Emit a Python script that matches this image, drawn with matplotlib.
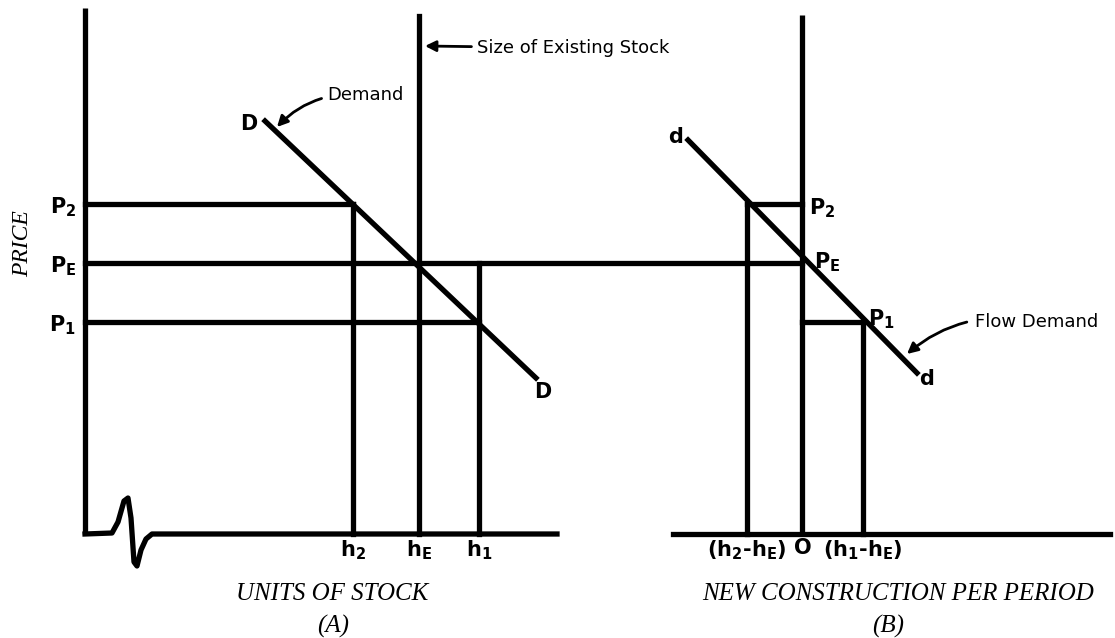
import matplotlib
matplotlib.use('Agg')
import matplotlib.pyplot as plt

plt.rcParams['mathtext.fontset'] = 'dejavusans'
plt.rcParams['mathtext.default'] = 'bf'

# price levels, measured up from the horizontal axis (same in both panels)
price_names = ['P_2', 'P_E', 'P_1']
price_levels = [330, 271, 212]

# panel A: stock quantities
stock_names = ['h_2', 'h_E', 'h_1']
stock_values = [268, 334, 394]
stock_demand_x = [180, 451]
stock_demand_y = [413, 156]

# panel B: new construction = h - h_E
flow_names = ['(h_2$-$h_E)', 'O', '(h_1$-$h_E)']
flow_values = [-55, 0, 61]
flow_demand_x = [-114, 115]
flow_demand_y = [394, 161]

# squiggle on the stock axis (axis break)
break_x = [0, 27, 33, 39, 43, 46, 49, 52, 56, 61, 67]
break_y = [0, 1, 12, 33, 36, 16, -28, -32, -16, -5, 0]

ox_a, ox_b, oy = 85, 802, 104

fig = plt.figure(figsize=(11.15, 6.38), dpi=100)
ax = fig.add_axes([0, 0, 1, 1])
ax.set_xlim(0, 1115)
ax.set_ylim(0, 638)
ax.axis('off')

lw = 3.8
k = 'black'

# ---- panel A ----
ax.plot([ox_a, ox_a], [oy, oy + 526], color=k, lw=lw, solid_capstyle='butt')
ax.plot([ox_a + x for x in break_x] + [557], [oy + y for y in break_y] + [oy],
        color=k, lw=lw, solid_joinstyle='round')

p2, pe, p1 = price_levels
h2, he, h1 = stock_values
ax.plot([ox_a, ox_a + h2], [oy + p2] * 2, color=k, lw=lw)
ax.plot([ox_a + h2] * 2, [oy, oy + p2], color=k, lw=lw)
ax.plot([ox_a, ox_a + h1], [oy + p1] * 2, color=k, lw=lw)
ax.plot([ox_a + h1] * 2, [oy, oy + pe], color=k, lw=lw)
ax.plot([ox_a + he] * 2, [oy, oy + 518], color=k, lw=lw)
# P_E runs across into panel B
ax.plot([ox_a, ox_b], [oy + pe] * 2, color=k, lw=lw)
ax.plot([ox_a + x for x in stock_demand_x], [oy + y for y in stock_demand_y],
        color=k, lw=lw)

for name, p in zip(price_names, price_levels):
    ax.text(ox_a - 9, oy + p - 3, '$%s$' % name, ha='right', va='center', fontsize=15)
for name, h in zip(stock_names, stock_values):
    ax.text(ox_a + h, oy - 4, '$%s$' % name, ha='center', va='top', fontsize=15)

ax.text(ox_a + stock_demand_x[0] - 16, oy + stock_demand_y[0] - 3, '$D$',
        ha='center', va='center', fontsize=15)
ax.text(ox_a + stock_demand_x[1] + 7, oy + stock_demand_y[1] - 14, '$D$',
        ha='center', va='center', fontsize=15)

ax.annotate('Demand', xy=(277, 511), xytext=(327, 543), ha='left', va='center',
            fontsize=13,
            arrowprops=dict(arrowstyle='-|>', color=k, lw=2, mutation_scale=16,
                            shrinkA=2, shrinkB=0, connectionstyle='arc3,rad=0.25'))
ax.annotate('Size of Existing Stock', xy=(ox_a + he + 6, 592), xytext=(477, 590),
            ha='left', va='center', fontsize=13,
            arrowprops=dict(arrowstyle='-|>', color=k, lw=2, mutation_scale=16,
                            shrinkA=2, shrinkB=0))

ax.text(23, 394, 'PRICE', rotation=90, ha='center', va='center', fontsize=17,
        family='Liberation Serif', style='italic')
ax.text(332, 44, 'UNITS OF STOCK', ha='center', va='center', fontsize=18,
        family='Liberation Serif', style='italic')
ax.text(333, 12, '(A)', ha='center', va='center', fontsize=18,
        family='Liberation Serif', style='italic')

# ---- panel B ----
ax.plot([ox_b, ox_b], [oy, oy + 519], color=k, lw=lw, solid_capstyle='butt')
ax.plot([673, 1110], [oy, oy], color=k, lw=lw)

f2, f0, f1 = flow_values
ax.plot([ox_b + f2, ox_b], [oy + p2] * 2, color=k, lw=lw)
ax.plot([ox_b + f2] * 2, [oy, oy + p2], color=k, lw=lw)
ax.plot([ox_b, ox_b + f1], [oy + p1] * 2, color=k, lw=lw)
ax.plot([ox_b + f1] * 2, [oy, oy + p1], color=k, lw=lw)
ax.plot([ox_b + x for x in flow_demand_x], [oy + y for y in flow_demand_y],
        color=k, lw=lw)

ax.text(ox_b + 7, oy + p2 - 4, '$P_2$', ha='left', va='center', fontsize=15)
ax.text(ox_b + 12, oy + pe + 1, '$P_E$', ha='left', va='center', fontsize=15)
ax.text(ox_b + f1 + 5, oy + p1 + 3, '$P_1$', ha='left', va='center', fontsize=15)

for name, f in zip(flow_names, flow_values):
    ax.text(ox_b + f, oy - 4, '$%s$' % name, ha='center', va='top', fontsize=15,
            fontweight='bold')

ax.text(ox_b + flow_demand_x[0] - 12, oy + flow_demand_y[0] + 3, '$d$',
        ha='center', va='center', fontsize=15)
ax.text(ox_b + flow_demand_x[1] + 10, oy + flow_demand_y[1] - 6, '$d$',
        ha='center', va='center', fontsize=15)

ax.annotate('Flow Demand', xy=(907, 284), xytext=(975, 316), ha='left', va='center',
            fontsize=13,
            arrowprops=dict(arrowstyle='-|>', color=k, lw=2, mutation_scale=16,
                            shrinkA=4, shrinkB=0, connectionstyle='arc3,rad=0.25'))

ax.text(898, 44, 'NEW CONSTRUCTION PER PERIOD', ha='center', va='center', fontsize=18,
        family='Liberation Serif', style='italic')
ax.text(888, 12, '(B)', ha='center', va='center', fontsize=18,
        family='Liberation Serif', style='italic')

fig.savefig('out.png', dpi=100)
